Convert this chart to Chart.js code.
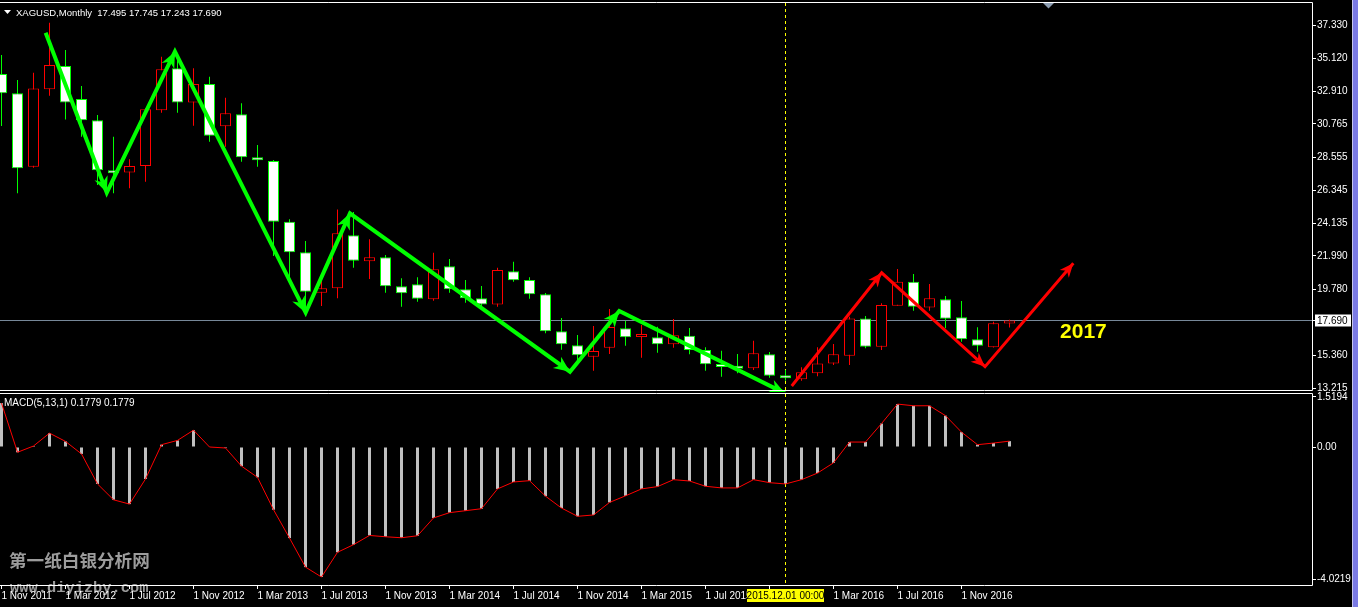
<!DOCTYPE html>
<html>
<head>
<meta charset="utf-8">
<script src="https://cdn.jsdelivr.net/npm/chart.js@4.4.1/dist/chart.umd.min.js"></script>
<style>
  html, body { margin: 0; padding: 0; background: #000; width: 1358px; height: 607px; overflow: hidden; }
  #price { position: absolute; left: 0; top: 0; }
  #macd  { position: absolute; left: 0; top: 392px; }
  #strip { position: absolute; left: 1352px; top: 0; width: 6px; height: 607px; background: #7b7be4; border-left: 1px solid #c8c8ee; box-sizing: border-box; }
</style>
</head>
<body>
<canvas id="price" width="1358" height="392"></canvas>
<canvas id="macd" width="1358" height="215"></canvas>
<div id="strip"></div>
<script>
// monthly XAGUSD, Nov 2011 .. Feb 2017 (index 0 = Nov 2011)
const OPEN  = [34.07, 32.79, 27.92, 33.06, 34.61, 32.41, 31.00, 27.58, 27.54, 27.96,
               31.66, 34.45, 32.19, 33.41, 30.60, 31.40, 28.54, 28.29, 24.26, 22.23,
               19.55, 19.84, 23.36, 21.63, 21.90, 19.97, 20.10, 19.11, 21.30, 19.77,
               19.17, 18.77, 20.97, 20.39, 19.44, 16.98, 16.05, 15.29, 15.89, 17.18,
               16.60, 16.58, 16.12, 16.69, 15.74, 14.76, 14.59, 14.52, 15.45, 14.03,
               13.79, 14.19, 14.85, 15.36, 17.84, 15.96, 18.68, 20.28, 18.57, 19.11,
               17.91, 16.45, 15.92, 17.495];
const HIGH  = [35.34, 33.68, 34.16, 37.48, 35.67, 33.28, 31.35, 29.91, 28.41, 31.80,
               35.22, 35.30, 34.45, 33.90, 32.50, 32.13, 29.36, 28.36, 24.42, 22.98,
               20.39, 25.08, 24.90, 23.09, 22.05, 20.50, 20.57, 22.20, 21.78, 20.39,
               19.99, 21.21, 21.61, 20.57, 19.53, 17.87, 16.73, 17.33, 18.46, 17.69,
               17.40, 17.29, 17.80, 17.20, 15.92, 15.69, 15.47, 16.36, 15.61, 14.41,
               14.59, 15.92, 16.14, 17.95, 18.00, 18.84, 21.12, 20.79, 20.12, 19.33,
               18.99, 17.25, 17.62, 17.745];
const LOW   = [30.62, 26.15, 27.85, 32.63, 31.06, 29.91, 26.70, 26.15, 26.48, 26.92,
               31.50, 31.50, 30.64, 29.58, 29.25, 28.25, 27.92, 21.98, 20.39, 18.28,
               18.66, 19.17, 21.21, 20.46, 19.55, 18.62, 18.95, 19.01, 19.55, 18.88,
               18.60, 18.62, 20.28, 19.15, 16.85, 15.76, 15.00, 14.36, 15.47, 16.02,
               15.23, 15.56, 15.89, 15.45, 14.36, 13.97, 14.19, 14.41, 13.90, 13.70,
               13.70, 14.00, 14.74, 14.74, 15.85, 15.74, 18.68, 18.35, 18.35, 17.18,
               16.29, 15.63, 15.90, 17.243];
const CLOSE = [32.79, 27.81, 33.12, 34.67, 32.19, 31.00, 27.68, 27.48, 27.96, 31.73,
               34.39, 32.19, 33.41, 29.98, 31.46, 28.54, 28.34, 24.26, 22.23, 19.61,
               19.84, 23.49, 21.67, 21.90, 19.97, 19.51, 19.15, 21.10, 19.77, 19.17,
               18.77, 21.05, 20.37, 19.44, 16.98, 16.12, 15.39, 15.67, 17.27, 16.58,
               16.64, 16.12, 16.72, 15.74, 14.79, 14.61, 14.50, 15.52, 14.03, 13.86,
               14.26, 14.85, 15.45, 17.84, 15.96, 18.73, 20.28, 18.62, 19.17, 17.82,
               16.45, 16.03, 17.51, 17.690];

// MACD(5,13,1) main = signal
const MACD = [ 1.33, -0.16,  0.03,  0.42,  0.17, -0.21, -1.12, -1.60, -1.73, -0.97,
               0.07,  0.20,  0.51,  0.00, -0.03, -0.58, -0.92, -1.90, -2.76, -3.64,
              -3.94, -3.19, -2.96, -2.68, -2.72, -2.75, -2.69, -2.15, -1.99, -1.93,
              -1.87, -1.27, -1.06, -1.02, -1.49, -1.85, -2.10, -2.06, -1.68, -1.48,
              -1.27, -1.20, -0.99, -1.03, -1.19, -1.24, -1.24, -0.99, -1.08, -1.12,
              -0.99, -0.79, -0.48,  0.15,  0.15,  0.71,  1.30,  1.25,  1.25,  0.95,
               0.45,  0.07,  0.12,  0.1779];

const PRICE_TICKS = [37.330, 35.120, 32.910, 30.765, 28.555, 26.345, 24.135, 21.990, 19.780, 15.360, 13.215];
const MACD_TICKS = [1.5194, 0, -4.0219];
const MACD_TICK_LABELS = ['1.5194', '0.00', '-4.0219'];
const X_TICK_POS = [0, 4, 8, 12, 16, 20, 24, 28, 32, 36, 40, 44, 48, 52, 56, 60];
const X_TICK_LABELS = ['1 Nov 2011', '1 Mar 2012', '1 Jul 2012', '1 Nov 2012', '1 Mar 2013', '1 Jul 2013',
                       '1 Nov 2013', '1 Mar 2014', '1 Jul 2014', '1 Nov 2014', '1 Mar 2015', '1 Jul 2015',
                       '1 Nov 2015', '1 Mar 2016', '1 Jul 2016', '1 Nov 2016'];

// hand-drawn trend arrows (month index, price)
const GREEN_X = [2.76, 6.58, 10.84, 19.01, 21.78, 35.53, 38.61, 48.97];
const GREEN_Y = [36.82, 26.19, 35.56, 18.22, 24.82, 14.30, 18.33, 12.86];
const RED_X = [49.39, 55.01, 61.47, 66.99];
const RED_Y = [13.35, 20.87, 14.63, 21.50];

const MARKER_INDEX = 49;
const MARKER_LABEL = '2015.12.01 00:00';
const NOTE_X = 66.16, NOTE_Y = 16.57, NOTE_TEXT = '2017';

const BULL = '#ff0000';
const BEAR = '#00ff00';
const AXIS_W = 46;
const X_MIN = -1.5 / 16;
const X_MAX = X_MIN + 1312 / 16;
const FONT = "'Liberation Sans', Arial, sans-serif";
const AXIS_FONT = { family: FONT, size: 10 };

Chart.defaults.color = '#fff';
Chart.defaults.font.family = FONT;

const idx = OPEN.map((_, i) => i);
const last = idx.length - 1;
const isBull = i => CLOSE[i] >= OPEN[i];

function arrowHead(ctx, x0, y0, x1, y1, len, half, color) {
  const ang = Math.atan2(y1 - y0, x1 - x0);
  ctx.save();
  ctx.translate(x1, y1);
  ctx.rotate(ang);
  ctx.fillStyle = color;
  ctx.beginPath();
  ctx.moveTo(0, 0);
  ctx.lineTo(-len, -half);
  ctx.lineTo(-len * 0.7, 0);
  ctx.lineTo(-len, half);
  ctx.closePath();
  ctx.fill();
  ctx.restore();
}

function markerLine(chart) {
  const { ctx, chartArea: a, scales: { x } } = chart;
  const mx = Math.floor(x.getPixelForValue(MARKER_INDEX)) + 0.5;
  ctx.save();
  ctx.strokeStyle = '#ffff00';
  ctx.lineWidth = 1;
  ctx.setLineDash([3, 3]);
  ctx.beginPath();
  ctx.moveTo(mx, a.top);
  ctx.lineTo(mx, a.bottom);
  ctx.stroke();
  ctx.restore();
}

const priceDecor = {
  id: 'priceDecor',
  beforeDatasetsDraw(chart) {
    const { ctx, chartArea: a, scales: { y } } = chart;
    const py = Math.floor(y.getPixelForValue(CLOSE[last])) + 0.5;
    ctx.save();
    ctx.strokeStyle = '#778899';
    ctx.lineWidth = 1;
    ctx.beginPath();
    ctx.moveTo(a.left, py);
    ctx.lineTo(a.right, py);
    ctx.stroke();
    ctx.restore();
    markerLine(chart);
  },
  afterDatasetsDraw(chart) {
    const { ctx, scales: { x, y } } = chart;
    chart.data.datasets.forEach((ds, di) => {
      if (!ds.arrow) return;
      const pts = chart.getDatasetMeta(di).data;
      for (let j = 1; j < pts.length; j++) {
        arrowHead(ctx, pts[j - 1].x, pts[j - 1].y, pts[j].x, pts[j].y, ds.headLen, ds.headHalf, ds.borderColor);
      }
    });
    ctx.save();
    ctx.fillStyle = '#ffff00';
    ctx.font = 'bold 21px ' + FONT;
    ctx.textBaseline = 'alphabetic';
    ctx.fillText(NOTE_TEXT, x.getPixelForValue(NOTE_X), y.getPixelForValue(NOTE_Y));
    ctx.restore();
  },
  afterDraw(chart) {
    const { ctx, chartArea: a, scales: { y } } = chart;
    ctx.save();
    // frame
    ctx.strokeStyle = '#fff';
    ctx.lineWidth = 1;
    ctx.beginPath();
    ctx.moveTo(a.left, a.top - 0.5);
    ctx.lineTo(a.right + 0.5, a.top - 0.5);
    ctx.lineTo(a.right + 0.5, a.bottom + 0.5);
    ctx.lineTo(a.left, a.bottom + 0.5);
    ctx.stroke();
    // last price tag
    const py = Math.floor(y.getPixelForValue(CLOSE[last])) + 0.5;
    ctx.beginPath();
    ctx.moveTo(a.right + 1, py);
    ctx.lineTo(a.right + 4, py);
    ctx.stroke();
    ctx.fillStyle = '#fff';
    ctx.fillRect(a.right + 3, py - 6, 36, 12);
    ctx.fillStyle = '#000';
    ctx.font = '10px ' + FONT;
    ctx.textBaseline = 'middle';
    ctx.fillText(CLOSE[last].toFixed(3), a.right + 5, py + 0.5);
    // title
    ctx.fillStyle = '#fff';
    ctx.beginPath();
    ctx.moveTo(4, 10); ctx.lineTo(11, 10); ctx.lineTo(7.5, 14); ctx.closePath();
    ctx.fill();
    ctx.font = '9.5px ' + FONT;
    ctx.textBaseline = 'alphabetic';
    ctx.fillText('XAGUSD,Monthly  ' + [OPEN[last], HIGH[last], LOW[last], CLOSE[last]].map(v => v.toFixed(3)).join(' '), 16, 16);
    // shift marker
    ctx.fillStyle = '#8c9cb0';
    ctx.beginPath();
    ctx.moveTo(1043, 3); ctx.lineTo(1054, 3); ctx.lineTo(1048.5, 8.5); ctx.closePath();
    ctx.fill();
    ctx.restore();
  },
};

const macdDecor = {
  id: 'macdDecor',
  beforeDraw(chart) {
    const { ctx } = chart;
    ctx.save();
    ctx.fillStyle = '#9c9c9c';
    ctx.font = "bold 17.6px 'Noto Sans CJK SC', sans-serif";
    ctx.textBaseline = 'top';
    ctx.fillText('第一纸白银分析网', 9, 160);
    ctx.font = "bold 15.4px 'Liberation Mono', monospace";
    ctx.textBaseline = 'alphabetic';
    ctx.fillText('www.diyizby.com', 10, 200);
    ctx.restore();
  },
  beforeDatasetsDraw(chart) {
    markerLine(chart);
  },
  afterDraw(chart) {
    const { ctx, chartArea: a, scales: { x } } = chart;
    ctx.save();
    ctx.strokeStyle = '#fff';
    ctx.lineWidth = 1;
    ctx.beginPath();
    ctx.moveTo(a.left, a.top - 0.5);
    ctx.lineTo(a.right + 0.5, a.top - 0.5);
    ctx.lineTo(a.right + 0.5, a.bottom + 0.5);
    ctx.lineTo(a.left, a.bottom + 0.5);
    ctx.stroke();
    ctx.fillStyle = '#fff';
    ctx.font = '10px ' + FONT;
    ctx.textBaseline = 'alphabetic';
    ctx.fillText('MACD(5,13,1) ' + MACD[last].toFixed(4) + ' ' + MACD[last].toFixed(4), 4, 14);
    // date marker tag
    const mx = Math.floor(x.getPixelForValue(MARKER_INDEX)) + 0.5;
    ctx.fillStyle = '#ffff00';
    ctx.fillRect(mx - 38.5, a.bottom + 4, 77, 13);
    ctx.fillStyle = '#000';
    ctx.textAlign = 'center';
    ctx.textBaseline = 'middle';
    ctx.font = '10px ' + FONT;
    ctx.fillText(MARKER_LABEL, mx, a.bottom + 11);
    ctx.restore();
  },
};

new Chart(document.getElementById('price'), {
  type: 'bar',
  data: {
    datasets: [
      {
        type: 'line',
        data: GREEN_X.map((x, k) => ({ x, y: GREEN_Y[k] })),
        borderColor: BEAR, borderWidth: 4, pointRadius: 0, tension: 0,
        clip: false, order: 1, arrow: true, headLen: 16, headHalf: 7,
      },
      {
        type: 'line',
        data: RED_X.map((x, k) => ({ x, y: RED_Y[k] })),
        borderColor: BULL, borderWidth: 3, pointRadius: 0, tension: 0,
        clip: false, order: 1, arrow: true, headLen: 14, headHalf: 6,
      },
      {
        data: idx.map(i => ({ x: i, y: [Math.min(OPEN[i], CLOSE[i]), Math.max(OPEN[i], CLOSE[i])] })),
        backgroundColor: idx.map(i => isBull(i) ? '#000' : '#fff'),
        borderColor: idx.map(i => isBull(i) ? BULL : BEAR),
        borderWidth: 1, borderSkipped: false, barThickness: 11, minBarLength: 3,
        grouped: false, inflateAmount: 0, order: 2,
      },
      {
        data: idx.map(i => ({ x: i, y: [LOW[i], HIGH[i]] })),
        backgroundColor: idx.map(i => isBull(i) ? BULL : BEAR),
        borderWidth: 0, barThickness: 1, grouped: false, inflateAmount: 0, order: 3,
      },
    ],
  },
  options: {
    responsive: false,
    animation: false,
    events: [],
    layout: { padding: { top: 3, bottom: 2, left: 0, right: 0 } },
    plugins: { legend: { display: false }, tooltip: { enabled: false } },
    scales: {
      x: { type: 'linear', display: false, offset: false, grid: { offset: false }, min: X_MIN, max: X_MAX },
      y: {
        type: 'linear', position: 'right', min: 13.083, max: 38.792,
        afterBuildTicks: s => { s.ticks = PRICE_TICKS.map(v => ({ value: v })); },
        afterFit: s => { s.width = AXIS_W; s.paddingTop = 0; s.paddingBottom = 0; },
        grid: { drawOnChartArea: false, drawTicks: true, tickLength: 4, color: '#fff' },
        border: { display: false },
        ticks: { color: '#fff', padding: 1, font: AXIS_FONT, autoSkip: false, callback: v => v.toFixed(3) },
      },
    },
  },
  plugins: [priceDecor],
});

new Chart(document.getElementById('macd'), {
  type: 'bar',
  data: {
    datasets: [
      {
        type: 'line',
        data: idx.map(i => ({ x: i, y: MACD[i] })),
        borderColor: '#ff0000', borderWidth: 1, pointRadius: 0, tension: 0, order: 1,
      },
      {
        data: idx.map(i => ({ x: i, y: MACD[i] })),
        backgroundColor: '#c0c0c0', borderWidth: 0, barThickness: 3,
        grouped: false, inflateAmount: 0, order: 2,
      },
    ],
  },
  options: {
    responsive: false,
    animation: false,
    events: [],
    layout: { padding: { top: 2, bottom: 0, left: 0, right: 0 } },
    plugins: { legend: { display: false }, tooltip: { enabled: false } },
    scales: {
      x: {
        type: 'linear', position: 'bottom', offset: false, min: X_MIN, max: X_MAX,
        afterBuildTicks: s => { s.ticks = X_TICK_POS.map(v => ({ value: v })); },
        afterFit: s => { s.height = 22; s.paddingLeft = 0; s.paddingRight = 0; },
        grid: { offset: false, drawOnChartArea: false, drawTicks: true, tickLength: 4, color: '#fff' },
        border: { display: false },
        ticks: {
          color: '#fff', padding: 1, font: AXIS_FONT, align: 'start', autoSkip: false, maxRotation: 0,
          callback: (v, i) => X_TICK_LABELS[i],
        },
      },
      y: {
        type: 'linear', position: 'right', min: -4.1818, max: 1.6061,
        afterBuildTicks: s => { s.ticks = MACD_TICKS.map(v => ({ value: v })); },
        afterFit: s => { s.width = AXIS_W; s.paddingTop = 0; s.paddingBottom = 0; },
        grid: { drawOnChartArea: false, drawTicks: true, tickLength: 4, color: '#fff' },
        border: { display: false },
        ticks: { color: '#fff', padding: 1, font: AXIS_FONT, autoSkip: false, callback: (v, i) => MACD_TICK_LABELS[i] },
      },
    },
  },
  plugins: [macdDecor],
});
</script>
</body>
</html>
